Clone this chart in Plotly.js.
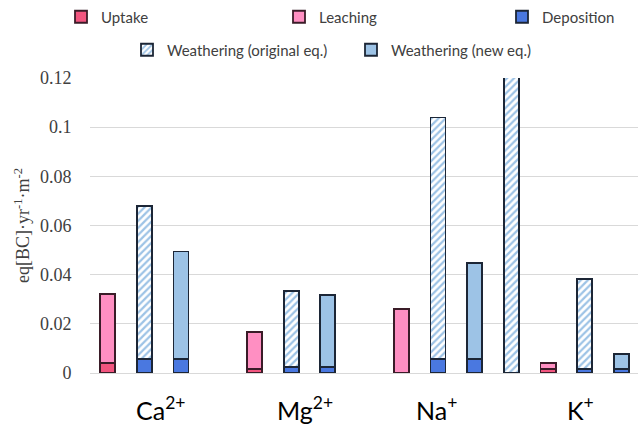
<!DOCTYPE html>
<html>
<head>
<meta charset="utf-8">
<script src="https://cdn.plot.ly/plotly-3.0.1.min.js"></script>
<style>html,body{margin:0;padding:0;background:#fff;}#chart{width:638px;height:428px;}</style>
</head>
<body>
<div id="chart"></div>
<script>
// Category slots along the x axis (Excel-style: one empty slot between ion groups)
const slotCats = ["Ca-UL","Ca-WO","Ca-WN","gap1","Mg-UL","Mg-WO","Mg-WN","gap2","Na-UL","Na-WO","Na-WN","Na-WO2","K-UL","K-WO","K-WN"];
const ionLabels = ["Ca<sup>2+</sup>","Mg<sup>2+</sup>","Na<sup>+</sup>","K<sup>+</sup>"];

// Series values
const uptakeCats = ["Ca-UL","Mg-UL","Na-UL","K-UL"];
const uptakeVals = [0.0040, 0.0016, 0.0, 0.0016];
const leachingCats = ["Ca-UL","Mg-UL","Na-UL","K-UL"];
const leachingVals = [0.0282, 0.0152, 0.0260, 0.0025];
const depositionCats = ["Ca-WO","Ca-WN","Mg-WO","Mg-WN","Na-WO","Na-WN","K-WO","K-WN"];
const depositionVals = [0.0058, 0.0058, 0.0026, 0.0024, 0.0058, 0.0058, 0.0015, 0.0015];
const weathOrigCats = ["Ca-WO","Mg-WO","Na-WO","Na-WO2","K-WO"];
const weathOrigVals = [0.0621, 0.0309, 0.0981, 0.1350, 0.0369];
const weathNewCats = ["Ca-WN","Mg-WN","Na-WN","K-WN"];
const weathNewVals = [0.0436, 0.0293, 0.0391, 0.0061];

const sans = "Lato, Liberation Sans, sans-serif";
const serif = "Liberation Serif";
const legFont = {family: sans, size: 15, color: "#404040"};
const pinkLine = {color: "#3a1c28", width: 1.8};
const blueLine = {color: "#1c2636", width: 1.8};

const traces = [
  {type: "bar", name: "Uptake", x: uptakeCats, y: uptakeVals,
   marker: {color: "#f2557f", line: pinkLine}, legend: "legend"},
  {type: "bar", name: "Leaching", x: leachingCats, y: leachingVals,
   marker: {color: "#ff8fc2", line: pinkLine}, legend: "legend2"},
  {type: "bar", name: "Deposition", x: depositionCats, y: depositionVals,
   marker: {color: "#4a78e0", line: blueLine}, legend: "legend3"},
  {type: "bar", name: "Weathering (original eq.)", x: weathOrigCats, y: weathOrigVals,
   marker: {color: "#ffffff", line: blueLine,
     pattern: {shape: "/", fgcolor: "#9dc3e6", bgcolor: "#ffffff", size: 5, solidity: 0.45}},
   legend: "legend4"},
  {type: "bar", name: "Weathering (new eq.)", x: weathNewCats, y: weathNewVals,
   marker: {color: "#9dc3e6", line: blueLine}, legend: "legend5"}
];

function leg(xpx, ypx) {
  return {x: xpx / 638, y: 1 - ypx / 428, xref: "container", yref: "container",
          xanchor: "left", yanchor: "middle", font: legFont, bgcolor: "rgba(0,0,0,0)",
          itemwidth: 30, orientation: "h"};
}

const labelPos = [1.43, 5.38, 8.95, 12.87];
const annotations = ionLabels.map((t, i) => ({
  text: t, x: labelPos[i], xref: "x", y: -0.12, yref: "paper",
  showarrow: false, xanchor: "center", yanchor: "middle",
  font: {family: sans, size: 25, color: "#000"}
}));

const layout = {
  width: 638, height: 428,
  font: {family: serif, size: 18, color: "#404040"},
  margin: {l: 90, r: 0, t: 78, b: 55},
  paper_bgcolor: "#fff", plot_bgcolor: "#fff",
  barmode: "stack", bargap: 0.59,
  showlegend: true,
  legend: leg(61, 17),
  legend2: leg(279, 17),
  legend3: leg(502, 17),
  legend4: leg(127, 50),
  legend5: leg(351, 50),
  xaxis: {type: "category", categoryorder: "array", categoryarray: slotCats,
          range: [-0.48, 14.45], showticklabels: false, showgrid: false,
          zeroline: false, showline: false, ticks: ""},
  yaxis: {range: [0, 0.12], dtick: 0.02, tick0: 0, showgrid: true, gridcolor: "#d9d9d9",
          gridwidth: 1, zeroline: true, zerolinecolor: "#d9d9d9", zerolinewidth: 1,
          showline: false, ticks: "outside", ticklen: 14, tickcolor: "rgba(0,0,0,0)",
          tickfont: {family: serif, size: 18, color: "#404040"},
          title: {text: "eq[BC]·yr<sup>-1</sup>·m<sup>-2</sup>", standoff: 5,
                  font: {family: serif, size: 18, color: "#404040"}}},
  annotations: annotations
};

Plotly.newPlot("chart", traces, layout, {displayModeBar: false, staticPlot: true});
</script>
</body>
</html>
